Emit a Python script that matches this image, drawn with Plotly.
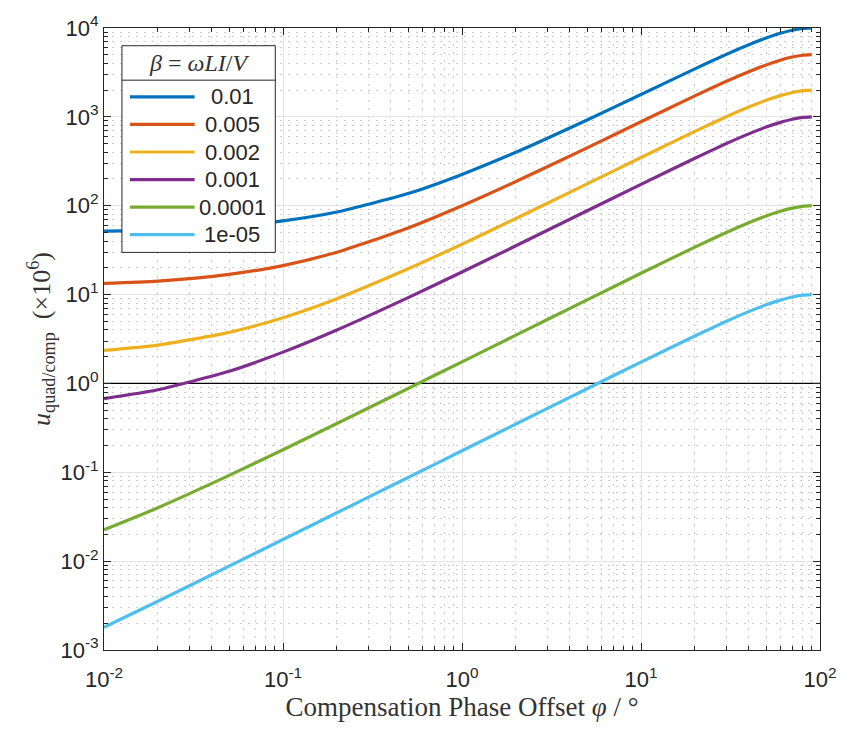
import plotly.graph_objects as go

# Compensation phase offset phi (degrees)
phi_deg = [0.01, 0.02, 0.05, 0.1, 0.2, 0.5, 1, 2, 5, 10, 20, 30, 40, 50, 60, 70, 80, 90]

# u_quad/comp (x1e6) for each beta = omega*L*I/V
u_b1e2 = [51.7, 53.5, 58.7, 67.5, 84.9, 137, 225, 399, 922, 1786, 3470, 5050, 6478, 7710, 8710, 9447, 9898, 10050]
u_b5e3 = [13.4, 14.2, 16.9, 21.2, 30.0, 56.1, 99.8, 187, 448, 881, 1723, 2513, 3226, 3843, 4343, 4711, 4937, 5013]
u_b2e3 = [2.35, 2.70, 3.75, 5.49, 8.98, 19.5, 36.9, 71.8, 176, 349, 686, 1002, 1288, 1534, 1734, 1881, 1972, 2002]
u_b1e3 = [0.675, 0.849, 1.37, 2.25, 3.99, 9.23, 17.95, 35.4, 87.7, 174.1, 342.5, 500.5, 643.3, 766.5, 866.5, 940.2, 985.3, 1000.5]
u_b1e4 = [0.0225, 0.0399, 0.0923, 0.1795, 0.354, 0.878, 1.750, 3.49, 8.72, 17.37, 34.2, 50.0, 64.3, 76.6, 86.6, 94.0, 98.5, 100]
u_b1e5 = [0.0018, 0.00354, 0.00878, 0.0175, 0.0350, 0.0873, 0.1746, 0.349, 0.872, 1.737, 3.42, 5.0, 6.43, 7.66, 8.66, 9.40, 9.85, 10.0]

series = [u_b1e2, u_b5e3, u_b2e3, u_b1e3, u_b1e4, u_b1e5]
beta_labels = ["0.01", "0.005", "0.002", "0.001", "0.0001", "1e-05"]
colors = ["#0072BD", "#D95319", "#EDB120", "#7E2F8E", "#77AC30", "#4DBEEE"]

x_ticks = [0.01, 0.1, 1, 10, 100]
x_ticktext = ["10<sup>-2</sup>", "10<sup>-1</sup>", "10<sup>0</sup>", "10<sup>1</sup>", "10<sup>2</sup>"]
y_ticks = [1e-3, 1e-2, 1e-1, 1, 10, 100, 1e3, 1e4]
y_ticktext = ["10<sup>-3</sup>", "10<sup>-2</sup>", "10<sup>-1</sup>", "10<sup>0</sup>",
              "10<sup>1</sup>", "10<sup>2</sup>", "10<sup>3</sup>", "10<sup>4</sup>"]
unity_level = 1.0

W, H = 849, 731
ML, MR, MT, MB = 104, 26, 18, 81
PW, PH = W - ML - MR, H - MT - MB

def px(xp):
    return (xp - ML) / PW

def py(yp):
    return (H - MB - yp) / PH

SANS = "Liberation Sans, Arial, sans-serif"
SERIF = "Liberation Serif, Times New Roman, serif"
AX = "#262626"

fig = go.Figure()

# reference level u = 1
fig.add_trace(go.Scatter(x=[x_ticks[0], x_ticks[-1]], y=[unity_level, unity_level], mode="lines",
                         line=dict(color="black", width=1.2), showlegend=False, hoverinfo="skip"))

for vals, name, c in zip(series, beta_labels, colors):
    fig.add_trace(go.Scatter(x=phi_deg, y=vals, mode="lines", name=name,
                             line=dict(color=c, width=3.2, shape="spline", smoothing=0.6),
                             showlegend=False))

minor = dict(ticks="inside", ticklen=4, tickcolor=AX, dtick="D1",
             showgrid=True, gridcolor="#cdcdcd", griddash="2px,6px", gridwidth=1)

axis_common = dict(type="log", showline=True, linecolor=AX, linewidth=1, mirror="ticks",
                   ticks="inside", ticklen=7, tickcolor=AX, tickmode="array",
                   showgrid=True, gridcolor="#e3e3e3", gridwidth=1, zeroline=False,
                   tickfont=dict(family=SANS, size=22, color=AX), minor=minor)

fig.update_xaxes(range=[-2, 2], tickvals=x_ticks, ticktext=x_ticktext, ticklabelstandoff=10,
                 title=dict(text="Compensation Phase Offset <i>φ</i> / °",
                            font=dict(family=SERIF, size=27, color="#333333"), standoff=3),
                 **axis_common)
fig.update_yaxes(range=[-3, 4], tickvals=y_ticks, ticktext=y_ticktext,
                 title=dict(text="<i>u</i><sub>quad/comp</sub>  (×10<sup>6</sup>)",
                            font=dict(family=SERIF, size=26, color="#333333"), standoff=2),
                 **axis_common)

# legend box drawn in paper coordinates
shapes = []
annotations = []
bx0, bx1, by0, by1 = 122, 276, 36, 246
shapes.append(dict(type="rect", xref="paper", yref="paper", x0=px(bx0), x1=px(bx1),
                   y0=py(by1), y1=py(by0), line=dict(color=AX, width=1), fillcolor="white",
                   layer="above"))
shapes.append(dict(type="line", xref="paper", yref="paper", x0=px(bx0), x1=px(bx1),
                   y0=py(71), y1=py(71), line=dict(color=AX, width=1), layer="above"))
annotations.append(dict(xref="paper", yref="paper", x=px((bx0 + bx1) / 2), y=py(53.5),
                        text="<i>β</i> = <i>ωLI</i>/<i>V</i>", showarrow=False,
                        xanchor="center", yanchor="middle",
                        font=dict(family=SERIF, size=24, color="#333333")))
for i, (name, c) in enumerate(zip(beta_labels, colors)):
    yy = 88 + i * 28
    shapes.append(dict(type="line", xref="paper", yref="paper", x0=px(130), x1=px(195),
                       y0=py(yy), y1=py(yy), line=dict(color=c, width=3.2), layer="above"))
    annotations.append(dict(xref="paper", yref="paper", x=px(233), y=py(yy), text=name,
                            showarrow=False, xanchor="center", yanchor="middle",
                            font=dict(family=SANS, size=22, color=AX)))

fig.update_layout(width=W, height=H, margin=dict(l=ML, r=MR, t=MT, b=MB),
                  paper_bgcolor="white", plot_bgcolor="white",
                  shapes=shapes, annotations=annotations, showlegend=False)

fig.write_html("out.html")
